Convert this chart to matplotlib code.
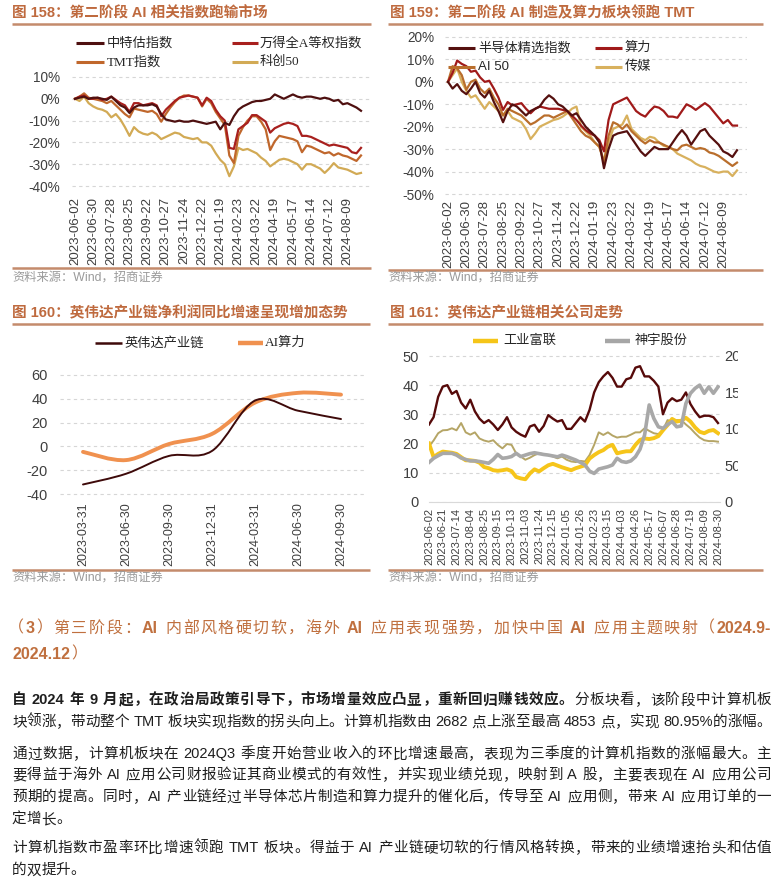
import re
import numpy as np
import matplotlib
matplotlib.use("Agg")
import matplotlib.pyplot as plt
from matplotlib.lines import Line2D
from matplotlib.font_manager import FontProperties
from matplotlib.path import Path
from matplotlib.patches import PathPatch, Rectangle

W, H = 773, 884
SANS = ['Liberation Sans', 'Noto Sans CJK SC', 'DejaVu Sans']
SERIF = ['Liberation Serif', 'Noto Sans CJK SC', 'DejaVu Sans']
plt.rcParams['font.family'] = SANS

# ---------------- Chart 158 data (weekly, 64 points) ----------------
ticks_158 = ['2023-06-02', '2023-06-30', '2023-07-28', '2023-08-25', '2023-09-22', '2023-10-27',
             '2023-11-24', '2023-12-22', '2024-01-19', '2024-02-23', '2024-03-22', '2024-04-19',
             '2024-05-17', '2024-06-14', '2024-07-12', '2024-08-09']
zhongtegu = [0, 0.5, 1, 0, 0.5, 0.5, 0, -0.5, 1,
             -1, -3, -4, -6.5, -4, -3, -3, -3,
             -2.5, -3.5, -7, -9.5,
             -10, -10.5, -10, -10.5, -10.5, -10, -10.5, -11, -11.5, -11, -10.5,
             -14, -11, -12, -8, -5, -3.5, -2.5, -1.5, -1, -1, -0.5, 0,
             2, 1, 0, 1, 2, 1, 0.5, 1, 1, 0.5, 0, 0.5, 0, -1, -0.5, -2.5, -2, -3, -4, -5.5]
wind_a_eq = [0, 1, 1.5, 0, 0, 0.5, -0.5, 0, 1,
             -0.5, -2, -3, -6, -2, -2, -3, -2.5,
             -2, -3, -8, -5,
             -3, -1, 0.5, 1, 1.5, 1, 0.5, -3, 0.5, -1, -5,
             -8, -10, -22.5, -23, -14, -12.5, -11, -7.5, -7.5, -9, -10.5, -15.5,
             -13.5, -12.5, -11.5, -11, -11.5, -12.5, -17, -17, -17.5, -18.5, -19.5, -20.5, -21.5, -21,
             -21.5, -22, -22.5, -24.5, -25, -22.5]
tmt_idx = [0, 1, 2.5, 0.5, 0, -0.5, -1, -2, -1,
           -3, -5, -7, -8.5, -4.5, -5, -5.5, -6,
           -5.5, -7, -10.5, -7,
           -4, -1.5, 0.5, 1.5, 1.5, 1, 0.5, -3.5, 0, -2, -6,
           -9, -12, -26, -29.5, -17, -13, -10, -8, -8, -10.5, -14, -23.5,
           -19.5, -17, -17.5, -18, -18.5, -19.5, -24.5, -21.5, -22, -23, -24, -25, -24.5, -26,
           -25, -26, -26.5, -27.5, -28.5, -26]
kc50 = [0, -1, 1, -2, -3.5, -4.5, -5, -6, -8.5,
        -7, -9.5, -13, -17, -13, -15, -16, -16.5,
        -15.5, -16.5, -18.5, -17.5,
        -16.5, -15.5, -16, -17.5, -18, -18.5, -18, -20, -20, -21.5, -25,
        -28, -30, -35.5, -31, -22.5, -23.5, -23, -24, -25, -27, -28.5, -31,
        -29.5, -28, -27.5, -28, -29, -30, -32.5, -30, -30, -31, -32, -34, -32, -29.5,
        -31.5, -32, -32.5, -33.5, -34.5, -34]
yticks_158 = [10, 0, -10, -20, -30, -40]

# ---------------- Chart 159 data ----------------
ticks_159 = ticks_158
semi_sel = [0, -3, -1, -4, -5.5, -3, 0, -5, -7, -4, -9, -13, -18, -13, -10, -11, -13, -15, -13, -12,
            -11, -8, -6, -7.5, -10, -11, -13, -15, -14, -17, -20, -22, -24, -27, -38.5, -30, -24, -23,
            -22.5, -22, -25, -28, -31, -33, -31, -29, -30, -30, -30, -27, -24, -21.5, -24, -28, -25,
            -22, -21, -24, -26, -28, -31, -32, -33.5, -30.5]
suanli = [0, 4, 9.5, 8, 7, 4.5, 5, 2, 0, 0.5, -3, -7, -12.5, -9, -10.5, -10, -9.5, -12, -14, -12,
          -11, -11.5, -12, -12, -12, -12.5, -13, -15, -17, -19.5, -21.5, -23, -24, -26, -31, -17, -10,
          -9, -8, -7, -10, -13, -14.5, -15.5, -13, -11, -11.5, -13, -15.5, -15.5, -16, -13, -10, -11,
          -12.5, -11, -9.5, -11, -13.5, -16, -18.5, -17, -19.5, -19.5]
ai50 = [0, 7, 6, 3, -3.5, 0, 1, -3, -5, -3, -7, -10, -15, -12, -13, -14, -15, -17, -19, -18,
        -16.5, -15, -15, -16, -15, -14, -13, -16, -19, -22, -24, -25, -27, -29, -36, -24, -18, -19,
        -21, -19, -22, -24, -26, -27.5, -26, -27, -27, -28, -29, -30, -30.5, -28.5, -28, -29, -30,
        -29.5, -30, -31.5, -32, -33, -34.5, -36, -37.5, -36]
chuanmei = [0, 3, 6, 0, -4, -7, -6, -9, -12, -9, -11, -13, -15, -13, -16, -17, -18, -21, -25.5, -23,
            -20, -19, -18, -17, -16.5, -15.5, -14, -12, -11, -20, -22, -24, -27, -29, -35, -27, -21,
            -20, -19, -15, -21, -23, -25, -26, -24.5, -25, -27, -28.5, -29, -30, -32, -33, -34, -35,
            -36.5, -37.5, -38, -39, -40, -40.5, -40, -40, -42, -39.5]
yticks_159 = [20, 10, 0, -10, -20, -30, -40, -50]

# ---------------- Chart 160 data (quarterly) ----------------
quarters_160 = ['2023-03-31', '2023-06-30', '2023-09-30', '2023-12-31', '2024-03-31', '2024-06-30', '2024-09-30']
nvda_chain = [-32, -23, -8, -3.8, 38.5, 30, 23]
ai_compute = [-4.6, -11.5, 2, 10.5, 36.8, 45, 43.5]
yticks_160 = [60, 40, 20, 0, -20, -40]

# ---------------- Chart 161 data (64 points, label every 3rd) ----------------
ticks_161 = ['2023-06-02', '2023-06-21', '2023-07-14', '2023-08-04', '2023-08-25', '2023-09-15',
             '2023-10-13', '2023-11-03', '2023-11-24', '2023-12-15', '2024-01-05', '2024-01-26',
             '2024-02-23', '2024-03-15', '2024-04-03', '2024-04-26', '2024-05-17', '2024-06-07',
             '2024-06-28', '2024-07-19', '2024-08-09', '2024-08-30']
dark_161 = [26.5, 29, 36, 39.5, 40, 37, 38, 34, 32, 35,
            31, 28.5, 27, 28, 26.5, 24.6, 26.5, 29, 25.5, 24,
            23, 22.3, 25.8, 26.4, 24, 26, 29.7, 28.5, 27.5, 28,
            25, 25, 27, 29, 27.5, 31.5, 37.5, 41, 43, 44.5,
            42.5, 39.5, 39.5, 42, 42.5, 46, 46.5, 43, 43, 41.5,
            39.5, 30, 34, 35.5, 34.5, 35, 37.5, 33.5, 31, 29,
            29.5, 29.5, 29, 27]
khaki_161 = [19, 21, 23.5, 24.5, 24.6, 25.2, 24.5, 27, 23.8, 23,
             23.8, 21.7, 21, 20.6, 21.1, 19.5, 18.3, 19.8, 19.5, 16.6,
             15.5, 14.4, 15.1, 16, 16.6, 16.3, 16, 15.5, 14.9, 15.5,
             14.4, 13.8, 13.6, 14, 13.8, 16, 19.5, 23.8, 22.9, 23.8,
             22.7, 22, 22.3, 22.3, 23, 23.8, 23.8, 25.2, 24.3, 23.5,
             23.2, 24.6, 28, 27.5, 28, 28, 26.5, 25.2, 23.5, 22,
             21.1, 20.8, 20.8, 20.6]
foxconn = [20, 15.3, 16.4, 17.2, 17, 16.8, 16.4, 15.3, 14.2, 14.2,
           14, 13.4, 11.9, 11.5, 10.8, 10.6, 10.8, 11.1, 10.5, 8.5,
           8, 7.7, 9.7, 11.1, 10.4, 11.5, 12.5, 13, 12.4, 11.8,
           11.3, 10.8, 11.5, 12, 12.5, 14.8, 16, 17, 17.7, 18.9,
           19.5, 16.6, 17, 17.3, 17.3, 19.5, 21.2, 21.7, 21.5, 21.8,
           22.5, 24.5, 26.3, 28.4, 27.5, 27.8, 28.8, 27.5, 25.5, 24,
           23.5, 24.3, 24.6, 23.5]
shenyu = [13.5, 14.9, 15.8, 16.6, 16.6, 16.6, 16, 15, 14.5, 14,
          14, 13.8, 13.5, 13.2, 14.5, 16.2, 14.9, 15.1, 15.5, 16.6,
          15.5, 16, 16.5, 16.8, 16.5, 16.2, 16, 15.7, 15.4, 16,
          15.5, 14.9, 14.3, 13.5, 12.6, 10.5, 9.7, 11.2, 11.6, 12,
          12.6, 14.9, 13.8, 13.5, 14, 15.4, 18, 22.9, 33.2, 28.6,
          25.7, 25.2, 26.5, 27.5, 25.7, 26, 33.7, 37.2, 38.9, 40,
          37.2, 39.4, 37.2, 39.4]
yticks_161_left = [0, 10, 20, 30, 40, 50]
yticks_161_right = [0, 50, 100, 150, 200]

# ---------------- Text ----------------
titles = ['图 158：第二阶段 AI 相关指数跑输市场', '图 159：第二阶段 AI 制造及算力板块领跑 TMT',
          '图 160：英伟达产业链净利润同比增速呈现增加态势', '图 161：英伟达产业链相关公司走势']
source = '资料来源：Wind，招商证券'
header_lines = ['（3）第三阶段：AI 内部风格硬切软，海外 AI 应用表现强势，加快中国 AI 应用主题映射（2024.9-',
                '2024.12）']
p1_bold = '自 2024 年 9 月起，在政治局政策引导下，市场增量效应凸显，重新回归赚钱效应。'
p1_l1_rest = '分板块看，该阶段中计算机板'
p1_l2 = '块领涨，带动整个 TMT 板块实现指数的拐头向上。计算机指数由 2682 点上涨至最高 4853 点，实现 80.95%的涨幅。'
p2_lines = ['通过数据，计算机板块在 2024Q3 季度开始营业收入的环比增速最高，表现为三季度的计算机指数的涨幅最大。主',
            '要得益于海外 AI 应用公司财报验证其商业模式的有效性，并实现业绩兑现，映射到 A 股，主要表现在 AI 应用公司',
            '预期的提高。同时，AI 产业链经过半导体芯片制造和算力提升的催化后，传导至 AI 应用侧，带来 AI 应用订单的一',
            '定增长。']
p3_lines = ['计算机指数市盈率环比增速领跑 TMT 板块。得益于 AI 产业链硬切软的行情风格转换，带来的业绩增速抬头和估值',
            '的双提升。']

# ---------------- Colors ----------------
TITLE_C = '#BF6A3E'
RULE_C = '#C48B6C'
GRID_C = '#D6D6D6'
TICK_C = '#3F3F3F'
SRC_C = '#9A9A9A'

fig = plt.figure(figsize=(W / 100, H / 100), dpi=100)
fig.patch.set_facecolor('white')


def fx(x):
    return x / W


def fy(y):
    return 1 - y / H


def hline(x0, x1, y, color=RULE_C, lw=1.8):
    fig.add_artist(Line2D([fx(x0), fx(x1)], [fy(y), fy(y)], transform=fig.transFigure,
                          color=color, lw=lw, solid_capstyle='butt'))


def legend_item(x0, x1, y, color, lw, label, tx, family=SERIF, size=9.5):
    fig.add_artist(Line2D([fx(x0), fx(x1)], [fy(y), fy(y)], transform=fig.transFigure,
                          color=color, lw=lw, solid_capstyle='butt'))
    fig.text(fx(tx), fy(y), label, family=family, fontsize=size, color='#262626',
             ha='left', va='center')


def add_axes_px(xpx0, xv0, xpx1, xv1, xlim, ypx0, yv0, ypx1, yv1, ylim):
    sx = (xpx1 - xpx0) / (xv1 - xv0)
    left = xpx0 + (xlim[0] - xv0) * sx
    right = xpx0 + (xlim[1] - xv0) * sx
    sy = (ypx1 - ypx0) / (yv1 - yv0)
    top = ypx0 + (ylim[1] - yv0) * sy
    bottom = ypx0 + (ylim[0] - yv0) * sy
    ax = fig.add_axes([left / W, 1 - bottom / H, (right - left) / W, (bottom - top) / H])
    ax.set_xlim(*xlim)
    ax.set_ylim(*ylim)
    return ax


def style(ax):
    for s in ax.spines.values():
        s.set_visible(False)
    ax.tick_params(length=0, colors=TICK_C)
    ax.grid(axis='y', color=GRID_C, lw=0.8, ls=(0, (3, 3)))
    ax.set_axisbelow(True)
    ax.set_facecolor('none')


def smooth_path(xs, ys):
    verts = [(xs[0], ys[0])]
    codes = [Path.MOVETO]
    n = len(xs)
    for i in range(n - 1):
        p0 = np.array([xs[max(i - 1, 0)], ys[max(i - 1, 0)]], float)
        p1 = np.array([xs[i], ys[i]], float)
        p2 = np.array([xs[i + 1], ys[i + 1]], float)
        p3 = np.array([xs[min(i + 2, n - 1)], ys[min(i + 2, n - 1)]], float)
        c1 = p1 + (p2 - p0) / 6.0
        c2 = p2 - (p3 - p1) / 6.0
        verts += [tuple(c1), tuple(c2), tuple(p2)]
        codes += [Path.CURVE4] * 3
    return Path(verts, codes)


# ================= Chart 158 =================
fig.text(fx(12), fy(13), titles[0], fontsize=10.5, weight='bold', color=TITLE_C, ha='left', va='center')
hline(12, 371, 24)
legend_item(76, 104, 43, '#4E1010', 2.2, '中特估指数', 107)
legend_item(232, 258, 43, '#A8201E', 2.2, '万得全A等权指数', 260)
legend_item(76, 104, 62, '#C0672C', 2.2, 'TMT指数', 107)
legend_item(232, 258, 62, '#D2AA55', 2.2, '科创50', 260)

ax1 = add_axes_px(75, 0, 361, len(kc50) - 1, (-0.66, 65), 77, 10, 186, -40, (-41, 11))
style(ax1)
x1 = np.arange(len(kc50))
ax1.plot(x1, kc50, color='#D2AA55', lw=1.6)
ax1.plot(x1, tmt_idx, color='#C0672C', lw=1.6)
ax1.plot(x1, wind_a_eq, color='#A8201E', lw=1.6)
ax1.plot(x1, zhongtegu, color='#4E1010', lw=1.6)
ax1.set_yticks(yticks_158)
ax1.set_yticklabels([f'{v}%' for v in yticks_158], fontsize=9.8)
ax1.set_xticks(x1[::4])
ax1.set_xticklabels(ticks_158, rotation=90, fontsize=9.5)
ax1.tick_params(axis='y', pad=8.6)
ax1.tick_params(axis='x', pad=6.3)
hline(12, 371, 268)
fig.text(fx(12), fy(278), source, fontsize=8.8, color=SRC_C, ha='left', va='center')

# ================= Chart 159 =================
fig.text(fx(390), fy(13), titles[1], fontsize=10.5, weight='bold', color=TITLE_C, ha='left', va='center')
hline(388, 763, 24)
ax2 = add_axes_px(448, 0, 737, len(semi_sel) - 1, (-0.65, 65.2), 37, 20, 194, -50, (-51, 21))
style(ax2)
x2 = np.arange(len(semi_sel))
ax2.plot(x2, chuanmei, color='#D8B15E', lw=1.6)
ax2.plot(x2, ai50, color='#B96E2C', lw=1.6)
ax2.plot(x2, suanli, color='#A01A1A', lw=1.6)
ax2.plot(x2, semi_sel, color='#55100F', lw=1.6)
ax2.set_yticks(yticks_159)
ax2.set_yticklabels([f'{v}%' for v in yticks_159], fontsize=9.8)
ax2.set_xticks(x2[::4])
ax2.set_xticklabels(ticks_159, rotation=90, fontsize=9.5)
ax2.tick_params(axis='y', pad=7.9)
ax2.tick_params(axis='x', pad=2.8)
legend_item(448, 475, 48, '#55100F', 2.2, '半导体精选指数', 478, family=SANS)
legend_item(595, 622, 48, '#A01A1A', 2.2, '算力', 625, family=SANS)
legend_item(448, 475, 67, '#B96E2C', 2.2, 'AI 50', 478, family=SANS)
legend_item(595, 622, 67, '#D8B15E', 2.2, '传媒', 625, family=SANS)
hline(388, 763, 270)
fig.text(fx(388), fy(278), source, fontsize=8.8, color=SRC_C, ha='left', va='center')

# ================= Chart 160 =================
fig.text(fx(12), fy(313), titles[2], fontsize=10.5, weight='bold', color=TITLE_C, ha='left', va='center')
hline(12, 370, 324)
legend_item(95, 122, 343, '#3E0A0A', 1.8, '英伟达产业链', 125)
legend_item(238, 263, 343, '#F0914F', 3.2, 'AI算力', 265)
ax3 = add_axes_px(83, 0, 341, len(quarters_160) - 1, (-0.535, 6.6), 375, 60, 494, -40, (-42, 62))
style(ax3)
x3 = np.arange(len(quarters_160))
ax3.add_patch(PathPatch(smooth_path(x3, ai_compute), fill=False, edgecolor='#F0914F', lw=2.8,
                        capstyle='round'))
ax3.add_patch(PathPatch(smooth_path(x3, nvda_chain), fill=False, edgecolor='#3E0A0A', lw=1.4,
                        capstyle='round'))
ax3.set_yticks(yticks_160)
ax3.set_yticklabels([str(v) for v in yticks_160], fontsize=10.5)
ax3.set_xticks(x3)
ax3.set_xticklabels(quarters_160, rotation=90, fontsize=9)
ax3.tick_params(axis='y', pad=8.6)
ax3.tick_params(axis='x', pad=4)
hline(12, 370, 570)
fig.text(fx(12), fy(578), source, fontsize=8.8, color=SRC_C, ha='left', va='center')

# ================= Chart 161 =================
fig.text(fx(390), fy(313), titles[3], fontsize=10.5, weight='bold', color=TITLE_C, ha='left', va='center')
hline(388, 763, 324)
legend_item(473, 498, 341, '#F5C518', 3.2, '工业富联', 503)
legend_item(605, 630, 341, '#A6A6A6', 3.2, '神宇股份', 635)
ax4 = add_axes_px(429, 0, 718, len(foxconn) - 1, (-0.1, 63.4), 356, 50, 501.7, 0, (0, 51))
style(ax4)
ax4.spines['bottom'].set_visible(True)
ax4.spines['bottom'].set_color('#D9D9D9')
x4 = np.arange(len(foxconn))
ax4.plot(x4, khaki_161, color='#B5A566', lw=1.4)
ax4.plot(x4, dark_161, color='#560A0A', lw=1.7)
ax4.plot(x4, foxconn, color='#F6C51A', lw=2.8)
ax4.plot(x4, shenyu, color='#A8A8A8', lw=2.6)
ax4.set_yticks(yticks_161_left)
ax4.set_yticklabels([str(v) for v in yticks_161_left], fontsize=10.5)
ax4.set_xticks(x4[::3])
ax4.set_xticklabels(ticks_161, rotation=90, fontsize=8)
ax4.tick_params(axis='y', pad=6.8)
ax4.tick_params(axis='x', pad=4.5)
ax4r = ax4.twinx()
ax4r.set_ylim(0, 204)
for s in ax4r.spines.values():
    s.set_visible(False)
ax4r.set_yticks(yticks_161_right)
ax4r.set_yticklabels([str(v) for v in yticks_161_right], fontsize=10.5)
ax4r.tick_params(length=0, colors=TICK_C, pad=3.5)
# the source chart crops the right-axis labels at its frame edge
fig.add_artist(Rectangle((fx(738), fy(512)), fx(773) - fx(738), fy(345) - fy(512),
                         transform=fig.transFigure, facecolor='white', edgecolor='none', zorder=10))
hline(388, 763, 570)
fig.text(fx(388), fy(578), source, fontsize=8.8, color=SRC_C, ha='left', va='center')

# ================= Body text (justified) =================
renderer = fig.canvas.get_renderer()
TOK = re.compile(r"[A-Za-z0-9.%\-]+| |.")
_wcache = {}


def tw(s, size, weight):
    key = (s, size, weight)
    if key not in _wcache:
        fp = FontProperties(family=SANS, size=size, weight=weight)
        w, h, d = renderer.get_text_width_height_descent(s, fp, ismath=False)
        _wcache[key] = w
    return _wcache[key]


def draw_line(segments, yc, x0, x1, size, justify=True):
    toks = []
    for txt, color, weight in segments:
        for t in TOK.findall(txt):
            toks.append((t, color, weight))
    advs, lsbs = [], []
    for t, c, wgt in toks:
        ref1 = tw('中', size, wgt)
        ref2 = tw('中中', size, wgt)
        A = ref2 - ref1
        side = (A - ref1) / 2.0
        adv = tw('中' + t + '中', size, wgt) - ref2
        if t == ' ':
            lsb = 0
        else:
            lsb = tw('中' + t, size, wgt) - ref1 - side - tw(t, size, wgt)
        advs.append(adv)
        lsbs.append(lsb)
    total = sum(advs)
    gaps = len(toks) - 1
    extra = (x1 - x0 - total) / gaps if (justify and gaps > 0) else 0.0
    em = size * 100 / 72
    base = yc + 0.36 * em
    x = x0
    for (t, c, wgt), a, l in zip(toks, advs, lsbs):
        if t != ' ':
            fig.text(fx(x + l), fy(base), t, fontsize=size, color=c, weight=wgt,
                     family=SANS, ha='left', va='baseline')
        x += a + extra


HEAD_C = '#C0703F'
BODY_C = '#1E1E1E'
L, R = 12, 771
hs = 11.5


def header_segments(s):
    segs = []
    for t in TOK.findall(s):
        segs.append((t, HEAD_C, 'bold' if re.match(r'[A-Za-z0-9]', t) else 'normal'))
    return segs


draw_line(header_segments(header_lines[0]), 627, 8, R, hs)
draw_line(header_segments(header_lines[1]), 653, 13, R, hs, justify=False)

bs = 10.5
draw_line([(p1_bold, BODY_C, 'bold'), (p1_l1_rest, BODY_C, 'normal')], 699, L, R, bs)
draw_line([(p1_l2, BODY_C, 'normal')], 721, L, R, bs)
for i, (ln, yy) in enumerate(zip(p2_lines, [753, 774, 796, 818])):
    draw_line([(ln, BODY_C, 'normal')], yy, L, R, bs, justify=(i < len(p2_lines) - 1))
for i, (ln, yy) in enumerate(zip(p3_lines, [847, 869])):
    draw_line([(ln, BODY_C, 'normal')], yy, L, R, bs, justify=(i < len(p3_lines) - 1))

fig.savefig('out.png', dpi=100, facecolor='white')
